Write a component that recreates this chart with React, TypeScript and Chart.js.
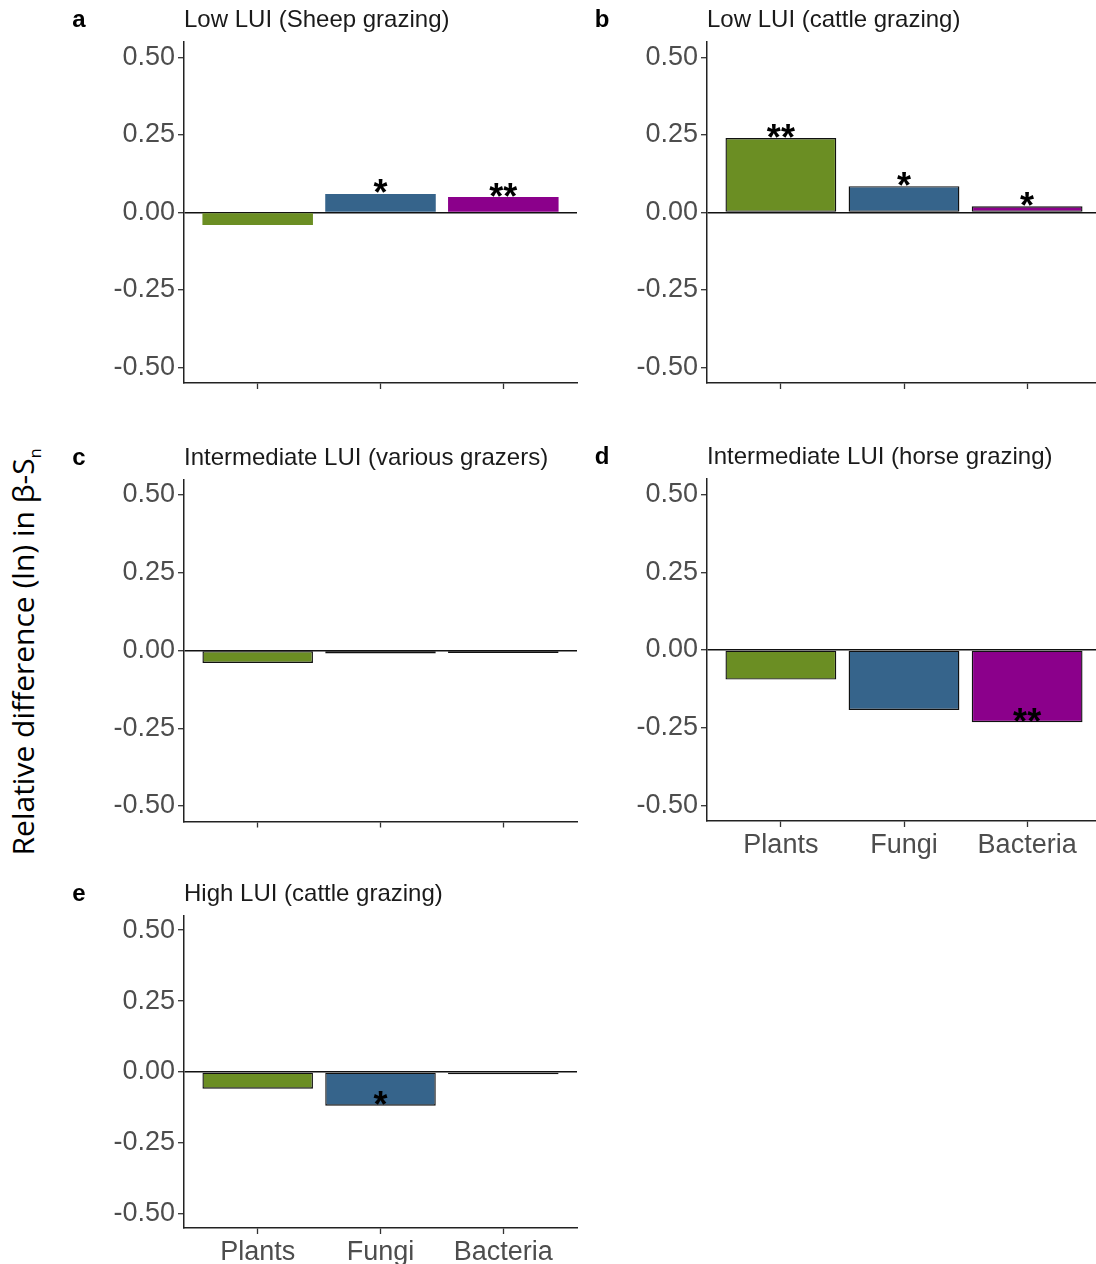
import { useEffect, useRef } from 'react';
import { Chart, registerables } from 'chart.js';

Chart.register(...registerables);

// Taxa shown on the x axis of every panel
const categories = ['Plants', 'Fungi', 'Bacteria'];
const barColors = ['#6B8E23', '#36648B', '#8B008B'];
const yTickValues = [-0.5, -0.25, 0, 0.25, 0.5];

// Relative difference (ln) in beta-Sn per grazing regime
const lowSheep = [-0.04, 0.06, 0.05];
const lowSheepSig = ['', '*', '**'];

const lowCattle = [0.24, 0.085, 0.02];
const lowCattleSig = ['**', '*', '*'];

const interVarious = [-0.04, -0.01, -0.008];
const interVariousSig = ['', '', ''];

const interHorse = [-0.095, -0.193, -0.232];
const interHorseSig = ['', '', '**'];

const highCattle = [-0.059, -0.119, -0.008];
const highCattleSig = ['', '*', ''];

type Box = { x: number; y: number; w: number; h: number };
type Area = { l: number; t: number; r: number; b: number };
type PanelSpec = {
  letter: string;
  title: string;
  values: number[];
  sig: string[];
  outlined: boolean;
  showLabels: boolean;
  canvas: Box;
  area: Area;
};

const panels: PanelSpec[] = [
  {
    letter: 'a', title: 'Low LUI (Sheep grazing)', values: lowSheep, sig: lowSheepSig,
    outlined: false, showLabels: false,
    canvas: { x: 60, y: 0, w: 525, h: 410 }, area: { l: 184, t: 42, r: 577, b: 383 },
  },
  {
    letter: 'b', title: 'Low LUI (cattle grazing)', values: lowCattle, sig: lowCattleSig,
    outlined: true, showLabels: false,
    canvas: { x: 585, y: 0, w: 517, h: 410 }, area: { l: 707, t: 42, r: 1101, b: 383 },
  },
  {
    letter: 'c', title: 'Intermediate LUI (various grazers)', values: interVarious, sig: interVariousSig,
    outlined: true, showLabels: false,
    canvas: { x: 60, y: 437, w: 525, h: 413 }, area: { l: 184, t: 479.5, r: 577, b: 821.5 },
  },
  {
    letter: 'd', title: 'Intermediate LUI (horse grazing)', values: interHorse, sig: interHorseSig,
    outlined: true, showLabels: true,
    canvas: { x: 585, y: 437, w: 517, h: 440 }, area: { l: 707, t: 479, r: 1101, b: 821 },
  },
  {
    letter: 'e', title: 'High LUI (cattle grazing)', values: highCattle, sig: highCattleSig,
    outlined: true, showLabels: true,
    canvas: { x: 60, y: 875, w: 530, h: 389 }, area: { l: 184, t: 916, r: 577, b: 1228 },
  },
];

const SANS = '"Liberation Sans", Arial, Helvetica, sans-serif';

// Draws panel letter, panel title and significance stars
const annotate = {
  id: 'annotate',
  afterDatasetsDraw(chart: any, _args: any, opts: any) {
    const { ctx, chartArea } = chart;
    const meta = chart.getDatasetMeta(0);
    const yScale = chart.scales.y;
    ctx.save();
    ctx.fillStyle = '#000';
    ctx.textAlign = 'center';
    ctx.textBaseline = 'alphabetic';
    ctx.font = `bold 36px ${SANS}`;
    opts.sig.forEach((s: string, i: number) => {
      if (!s) return;
      const bar = meta.data[i];
      const cy = yScale.getPixelForValue(opts.values[i]) - 7.5;
      const m = ctx.measureText(s);
      const base = cy + (m.actualBoundingBoxAscent - m.actualBoundingBoxDescent) / 2;
      ctx.fillText(s, bar.x, base);
    });

    const baseline = chartArea.top - 15;
    ctx.textAlign = 'left';
    ctx.fillStyle = '#1a1a1a';
    ctx.font = `24px ${SANS}`;
    ctx.fillText(opts.title, chartArea.left, baseline);

    ctx.textAlign = 'center';
    ctx.fillStyle = '#000';
    ctx.font = `bold 24px ${SANS}`;
    ctx.fillText(opts.letter, chartArea.left - 105, baseline);
    ctx.restore();
  },
};

function PanelChart({ spec }: { spec: PanelSpec }) {
  const ref = useRef<HTMLCanvasElement | null>(null);

  useEffect(() => {
    if (!ref.current) return;
    const { canvas, area } = spec;
    const chart = new Chart(ref.current, {
      type: 'bar',
      data: {
        datasets: [
          {
            data: spec.values.map((v, i) => ({ x: i + 1, y: v })),
            backgroundColor: barColors,
            borderColor: spec.outlined ? '#111' : barColors,
            borderWidth: spec.outlined ? 1.4 : 0,
            borderSkipped: false,
            barPercentage: 0.9,
            categoryPercentage: 1.0,
          },
        ],
      },
      options: {
        responsive: false,
        animation: false,
        devicePixelRatio: 1,
        events: [],
        layout: {
          padding: {
            left: 0,
            top: area.t - canvas.y,
            right: canvas.x + canvas.w - area.r,
            bottom: 0,
          },
        },
        plugins: {
          legend: { display: false },
          title: { display: false },
          tooltip: { enabled: false },
          annotate: { title: spec.title, letter: spec.letter, sig: spec.sig, values: spec.values },
        } as any,
        scales: {
          x: {
            type: 'linear',
            min: 0.4,
            max: 3.6,
            offset: false,
            afterBuildTicks: (s: any) => {
              s.ticks = categories.map((_, i) => ({ value: i + 1 }));
            },
            afterFit: (s: any) => {
              s.height = canvas.y + canvas.h - area.b;
            },
            ticks: {
              autoSkip: false,
              maxRotation: 0,
              padding: 5,
              color: '#4d4d4d',
              font: { family: SANS, size: 27, lineHeight: 1.0 },
              callback: (v: any) => (spec.showLabels ? categories[Math.round(Number(v)) - 1] : ''),
            },
            grid: {
              offset: false,
              drawOnChartArea: false,
              drawTicks: true,
              tickLength: 6,
              tickColor: '#333',
              tickWidth: 1.3,
            },
            border: { display: true, color: '#222', width: 1.5 },
          },
          y: {
            type: 'linear',
            min: -0.55,
            max: 0.55,
            afterBuildTicks: (s: any) => {
              s.ticks = yTickValues.map((v) => ({ value: v }));
            },
            afterFit: (s: any) => {
              s.width = area.l - canvas.x;
            },
            ticks: {
              padding: 3,
              color: '#4d4d4d',
              font: { family: SANS, size: 27, lineHeight: 1.0 },
              callback: (v: any) => Number(v).toFixed(2),
            },
            grid: {
              drawOnChartArea: true,
              drawTicks: true,
              tickLength: 6,
              tickColor: '#333',
              tickWidth: 1.3,
              lineWidth: 1.4,
              color: (c: any) => (c.tick && Math.abs(c.tick.value) < 1e-9 ? '#111' : 'rgba(0,0,0,0)'),
            },
            border: { display: true, color: '#222', width: 1.5 },
          },
        },
      },
      plugins: [annotate as any],
    });
    return () => chart.destroy();
  }, [spec]);

  const { canvas } = spec;
  return (
    <canvas
      ref={ref}
      width={canvas.w}
      height={canvas.h}
      style={{ position: 'absolute', left: canvas.x, top: canvas.y, width: canvas.w, height: canvas.h }}
    />
  );
}

export default function App() {
  return (
    <div
      style={{
        position: 'absolute',
        left: 0,
        top: 0,
        width: 1096,
        height: 1264,
        overflow: 'hidden',
        background: '#fff',
      }}
    >
      {panels.map((p) => (
        <PanelChart key={p.letter} spec={p} />
      ))}
      <div
        style={{
          position: 'absolute',
          left: 25,
          top: 652,
          transform: 'translate(-50%, -50%) rotate(-90deg)',
          whiteSpace: 'nowrap',
          fontFamily: '"Open Sans", Lato, sans-serif',
          fontSize: 30,
          lineHeight: 1,
          color: '#000',
        }}
      >
        Relative difference (ln) in β-S<sub style={{ fontSize: 16 }}>n</sub>
      </div>
    </div>
  );
}
